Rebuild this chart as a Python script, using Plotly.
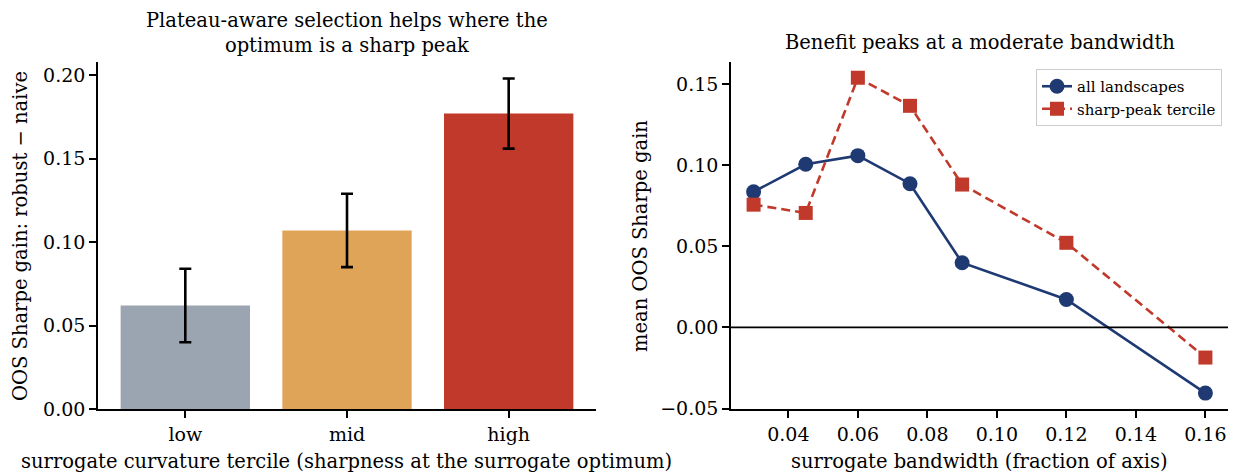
import plotly.graph_objects as go

# Left panel data
terciles = ["low", "mid", "high"]
gain = [0.062, 0.107, 0.177]
gain_err = [0.022, 0.022, 0.021]
bar_colors = ["#9aa5b1", "#dfa458", "#c0392b"]

# Right panel data
bandwidth = [0.03, 0.045, 0.06, 0.075, 0.09, 0.12, 0.16]
all_land = [0.0835, 0.1005, 0.1058, 0.0885, 0.0398, 0.0172, -0.0405]
sharp_peak = [0.0756, 0.0705, 0.1538, 0.1365, 0.0880, 0.0521, -0.0186]

W, H = 1233, 472
FONT = "DejaVu Serif"
FS = 19
LFS = 19.5
BLUE = "#1f3a73"
RED = "#c0392b"

def px(x0, x1):
    return [x0 / W, x1 / W]

def py(y):
    return (H - y) / H

ydom = [py(409), py(62)]

fig = go.Figure()
fig.add_trace(go.Bar(
    x=[0, 1, 2], y=gain, width=0.8,
    marker=dict(color=bar_colors, line=dict(width=0)),
    error_y=dict(type="data", array=gain_err, color="black", thickness=2.6, width=6),
    xaxis="x", yaxis="y", showlegend=False,
))
fig.add_trace(go.Scatter(
    x=bandwidth, y=all_land, mode="lines+markers", name="all landscapes",
    line=dict(color=BLUE, width=2.6),
    marker=dict(symbol="circle", size=15, color=BLUE),
    xaxis="x2", yaxis="y2",
))
fig.add_trace(go.Scatter(
    x=bandwidth, y=sharp_peak, mode="lines+markers", name="sharp-peak tercile",
    line=dict(color=RED, width=2.6, dash="9px,5px"),
    marker=dict(symbol="square", size=14, color=RED),
    xaxis="x2", yaxis="y2",
))

axis_common = dict(
    showline=True, linecolor="black", linewidth=1.6, mirror=False,
    ticks="outside", ticklen=7, tickwidth=1.6, tickcolor="black",
    showgrid=False, zeroline=False, automargin=False,
    tickfont=dict(family=FONT, size=FS, color="black"),
)

def label(text, x, y, angle=0, size=LFS):
    return dict(text=text, xref="paper", yref="paper", x=x / W, y=py(y),
                xanchor="center", yanchor="middle", textangle=angle,
                showarrow=False, font=dict(family=FONT, size=size, color="black"))

fig.update_layout(
    width=W, height=H,
    margin=dict(l=0, r=0, t=0, b=0),
    plot_bgcolor="white", paper_bgcolor="white",
    font=dict(family=FONT, size=FS, color="black"),
    xaxis=dict(domain=px(98, 596), range=[-0.54, 2.54], tickvals=[0, 1, 2], ticktext=terciles,
               anchor="y", **axis_common),
    yaxis=dict(domain=ydom, range=[0, 0.2079], tickvals=[0, 0.05, 0.10, 0.15, 0.20], tickformat=".2f",
               anchor="x", **axis_common),
    xaxis2=dict(domain=px(731, 1228), range=[0.0235, 0.1665],
                tickvals=[0.04, 0.06, 0.08, 0.10, 0.12, 0.14, 0.16], tickformat=".2f",
                anchor="y2", **axis_common),
    yaxis2=dict(domain=ydom, range=[-0.0503, 0.1635], tickvals=[-0.05, 0, 0.05, 0.10, 0.15], tickformat=".2f",
                anchor="x2", **axis_common),
    legend=dict(x=1222 / W, y=py(69), xanchor="right", yanchor="top",
                bgcolor="white", bordercolor="#cccccc", borderwidth=1,
                font=dict(family=FONT, size=15), tracegroupgap=0),
    shapes=[dict(type="line", xref="x2 domain", yref="y2", x0=0, x1=1, y0=0, y1=0,
                 line=dict(color="black", width=1.6))],
    annotations=[
        label("Plateau-aware selection helps where the<br>optimum is a sharp peak", 347, 33.5),
        label("Benefit peaks at a moderate bandwidth", 980, 43),
        label("surrogate curvature tercile (sharpness at the surrogate optimum)", 346, 461),
        label("surrogate bandwidth (fraction of axis)", 979, 461),
        label("OOS Sharpe gain: robust − naive", 20, 236, angle=-90),
        label("mean OOS Sharpe gain", 640, 236, angle=-90),
    ],
)

fig.write_html(
    "out.html",
    config={"displayModeBar": False},
    post_script="document.body.style.margin='0';document.body.style.overflow='hidden';",
)
